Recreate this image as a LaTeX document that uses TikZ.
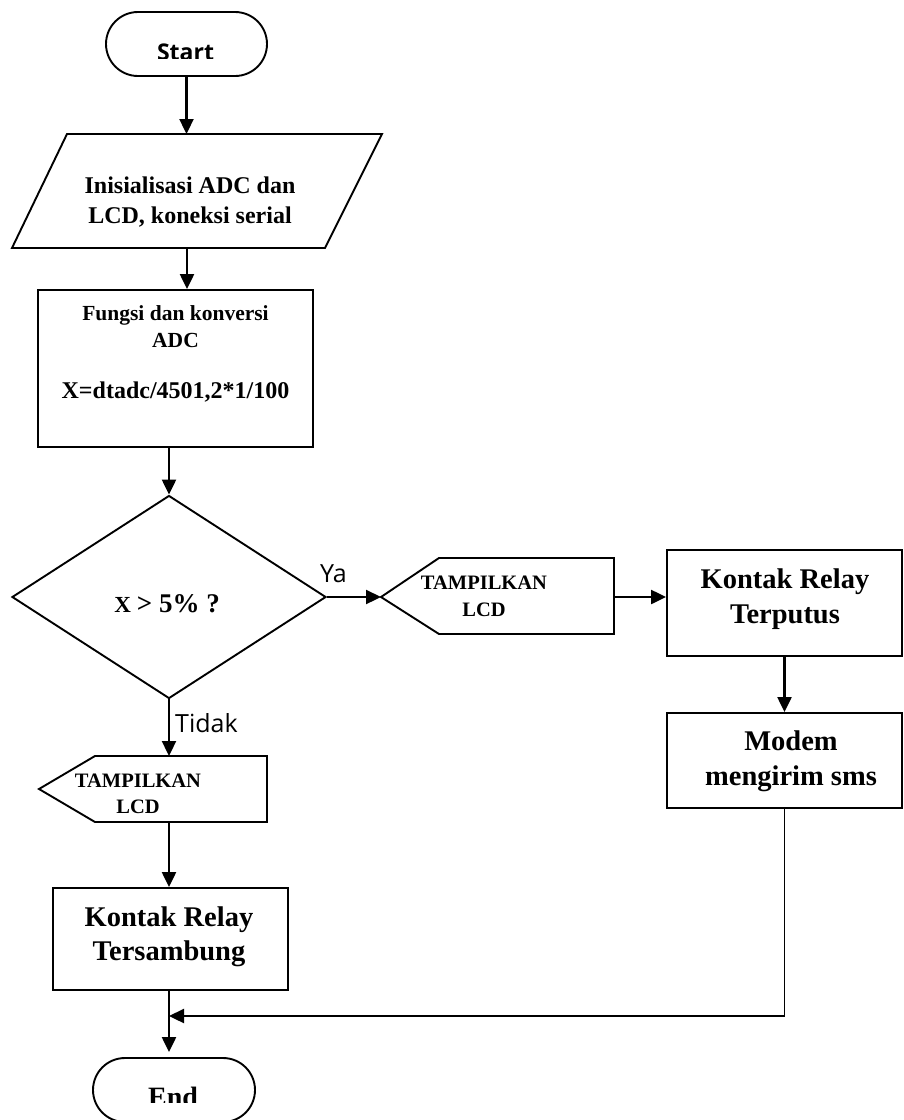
\documentclass[tikz,border=0pt]{standalone}
\usepackage{fontspec}
\setmainfont{Liberation Serif}
\newfontfamily\osans{Open Sans}
\usetikzlibrary{arrows.meta,shapes.geometric,shapes.misc}
\newcommand\fsz[1]{\fontsize{#1pt}{#1pt}\selectfont}
\begin{document}
\begin{tikzpicture}[x=1pt,y=-1pt,
  shp/.style={draw,line width=1.9pt,inner sep=0pt},
  outl/.style={draw,line width=1.9pt,line join=miter},
  arr/.style={line width=2.3pt,-{Triangle[length=15pt,width=14pt]}},
  thinln/.style={line width=1.4pt},
  txt/.style={anchor=base,inner sep=0pt,font=\bfseries},
  lbl/.style={anchor=base west,inner sep=0pt,font=\osans\fsz{25}},
  term/.style={shp,rounded rectangle,minimum width=161pt,minimum height=64pt},
  box/.style={shp,rectangle},
]
\useasboundingbox (0,0) rectangle (904,1120);
\fill[white] (0,0) rectangle (904,1120);

% Start
\node[term] (start) at (186.5,44) {};
\begin{scope}
  \clip (0,0) rectangle (904,58);
  \node[txt,font=\osans\bfseries\fsz{23}] (starttxt) at (185.5,60) {Start};
\end{scope}

% Parallelogram
\coordinate (p1) at (67,134);
\coordinate (p2) at (382,134);
\coordinate (p3) at (325,248);
\coordinate (p4) at (12,248);
\draw[outl] (p1) -- (p2) -- (p3) -- (p4) -- cycle;
\coordinate (ptop) at (187,134);
\coordinate (pbot) at (187,248);
\node[txt,font=\bfseries\fsz{24}] (init1) at (190,193) {Inisialisasi ADC dan};
\node[txt,font=\bfseries\fsz{24}] (init2) at (190,223) {LCD, koneksi serial};

% Fungsi box
\node[box,minimum width=275pt,minimum height=157pt] (fungsi) at (175.5,368.5) {};
\node[txt,font=\bfseries\fsz{21.5}] (fung1) at (175.5,320) {Fungsi dan konversi};
\node[txt,font=\bfseries\fsz{21.5}] (fung2) at (175.5,347) {ADC};
\node[txt,font=\bfseries\fsz{24}] (fung3) at (175.5,398) {X=dtadc/4501,2*1/100};

% Decision
\node[shp,diamond,minimum width=314pt,minimum height=203pt] (dec) at (169,597) {};
\node[txt] (dectxt) at (167,612) {{\fsz{23}X}\hspace{6pt}{\fsz{27}> 5\% ?}};

% Display 1
\coordinate (l1tip) at (381,597);
\coordinate (l1e) at (614,597);
\draw[outl] (l1tip) -- (439,558) -- (614,558) -- (614,634) -- (439,634) -- cycle;
\node[txt,font=\bfseries\fsz{20.5}] (l1a) at (484,589) {TAMPILKAN};
\node[txt,font=\bfseries\fsz{20.5}] (l1b) at (484,616) {LCD};

% Relay 1
\node[box,minimum width=235pt,minimum height=106pt] (relay1) at (784.5,603) {};
\node[txt,font=\bfseries\fsz{28.5}] (r1a) at (785,588) {Kontak Relay};
\node[txt,font=\bfseries\fsz{28.5}] (r1b) at (785,623) {Terputus};

% Modem
\node[box,minimum width=235pt,minimum height=95pt] (modem) at (784.5,760.5) {};
\node[txt,font=\bfseries\fsz{28.5}] (m1) at (791,750) {Modem};
\node[txt,font=\bfseries\fsz{28.5}] (m2) at (791,785) {mengirim sms};

% Display 2
\coordinate (l2top) at (169,756);
\coordinate (l2bot) at (169,822);
\draw[outl] (39,789) -- (95,756) -- (267,756) -- (267,822) -- (95,822) -- cycle;
\node[txt,font=\bfseries\fsz{20.5}] (l2a) at (138,787) {TAMPILKAN};
\node[txt,font=\bfseries\fsz{20.5}] (l2b) at (138,813) {LCD};

% Relay 2
\node[box,minimum width=235pt,minimum height=102pt] (relay2) at (170.5,939) {};
\node[txt,font=\bfseries\fsz{28.5}] (r2a) at (169,926) {Kontak Relay};
\node[txt,font=\bfseries\fsz{28.5}] (r2b) at (169,960) {Tersambung};

% End
\node[term,minimum width=162pt] (end) at (174,1090) {};
\begin{scope}
  \clip (0,0) rectangle (904,1102);
  \node[txt,font=\bfseries\fsz{28}] (endtxt) at (173,1106) {End};
\end{scope}

% Labels
\node[lbl] (ya) at (320,582) {Ya};
\node[lbl] (tidak) at (175,732) {Tidak};

% Connectors
\coordinate (join) at (169,1016);
\draw[arr] (start.south) -- (start.south |- ptop);
\draw[arr] (pbot) -- (pbot |- fungsi.north);
\draw[arr] (dec.north |- fungsi.south) -- (dec.north);
\draw[arr] (dec.east) -- (l1tip);
\draw[arr] (l1e) -- (l1e -| relay1.west);
\draw[arr] (relay1.south) -- (modem.north);
\draw[arr] (dec.south) -- (l2top);
\draw[arr] (l2bot) -- (l2bot |- relay2.north);
\draw[arr,shorten >=5pt] (l2bot |- relay2.south) -- (l2bot |- end.north);
\draw[thinln] (modem.south) -- (modem.south |- join);
\draw[arr] (modem.south |- join) -- (join);
\end{tikzpicture}
\end{document}
